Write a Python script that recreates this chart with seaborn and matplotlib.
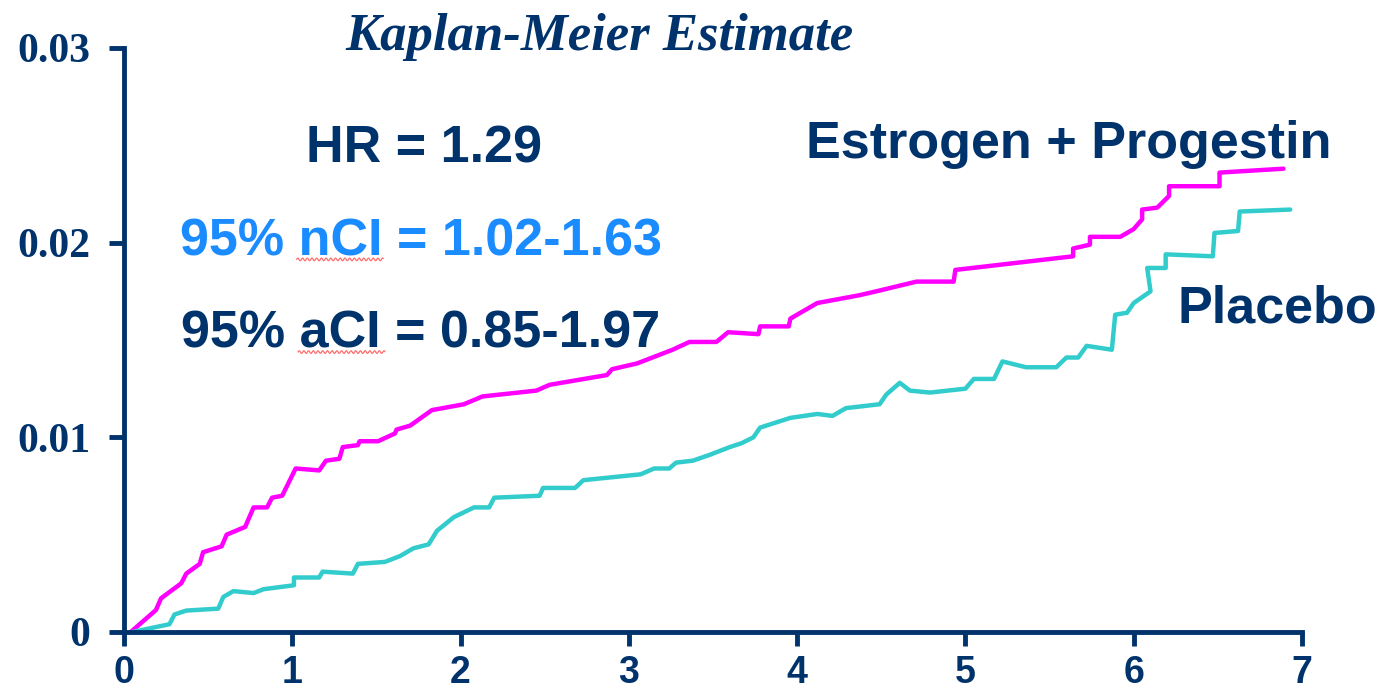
import numpy as np
import pandas as pd
import matplotlib
matplotlib.use("Agg")
import matplotlib.pyplot as plt
import seaborn as sns

# Cumulative incidence by years of follow-up, per treatment arm
ep_years = [0.04, 0.19, 0.22, 0.34, 0.37, 0.45, 0.47, 0.58, 0.61, 0.72, 0.77, 0.85,
            0.88, 0.94, 1.02, 1.16, 1.20, 1.28, 1.30, 1.39, 1.40, 1.51, 1.61, 1.62,
            1.70, 1.83, 2.02, 2.13, 2.45, 2.53, 2.87, 2.90, 3.05, 3.26, 3.36, 3.52,
            3.59, 3.77, 3.78, 3.95, 3.96, 4.12, 4.37, 4.47, 4.71, 4.93, 4.94, 5.64,
            5.64, 5.74, 5.74, 5.92, 6.00, 6.05, 6.05, 6.14, 6.21, 6.21, 6.51, 6.51, 6.89]
ep_rate = [0.0, 0.00113, 0.00173, 0.0025, 0.0030, 0.0035, 0.0041, 0.0044, 0.0050, 0.0054,
           0.0064, 0.0064, 0.0069, 0.0070, 0.0084, 0.0083, 0.0088, 0.0089, 0.0095, 0.0096,
           0.0098, 0.0098, 0.0102, 0.0104, 0.0106, 0.0114, 0.0117, 0.0121, 0.0124, 0.0127,
           0.0132, 0.0135, 0.0138, 0.0145, 0.0149, 0.0149, 0.0154, 0.0153, 0.0157, 0.0157,
           0.0161, 0.0169, 0.0173, 0.0175, 0.0180, 0.0180, 0.0186, 0.0193, 0.0197, 0.0199,
           0.0203, 0.0203, 0.0207, 0.0212, 0.0217, 0.0218, 0.0224, 0.0229, 0.0229, 0.0236,
           0.0238]

pl_years = [0.05, 0.27, 0.30, 0.37, 0.56, 0.59, 0.65, 0.77, 0.83, 1.01, 1.01, 1.16, 1.18,
            1.36, 1.39, 1.55, 1.64, 1.72, 1.81, 1.86, 1.96, 2.08, 2.17, 2.20, 2.47, 2.49,
            2.68, 2.73, 3.07, 3.15, 3.24, 3.28, 3.38, 3.48, 3.60, 3.67, 3.74, 3.78, 3.96,
            4.12, 4.21, 4.29, 4.49, 4.53, 4.61, 4.67, 4.79, 5.00, 5.05, 5.17, 5.22, 5.36,
            5.54, 5.60, 5.67, 5.72, 5.87, 5.89, 5.96, 6.00, 6.10, 6.08, 6.19, 6.19, 6.47,
            6.48, 6.62, 6.63, 6.93]
pl_rate = [0.0, 0.0004, 0.0009, 0.0011, 0.0012, 0.0018, 0.0021, 0.0020, 0.0022, 0.0024,
           0.0028, 0.0028, 0.0031, 0.0030, 0.0035, 0.0036, 0.0039, 0.0043, 0.0045, 0.0052,
           0.0059, 0.0064, 0.0064, 0.0069, 0.0070, 0.0074, 0.0074, 0.0078, 0.0081, 0.0084,
           0.0084, 0.0087, 0.0088, 0.0091, 0.0095, 0.0097, 0.0100, 0.0105, 0.0110, 0.0112,
           0.0111, 0.0115, 0.0117, 0.0122, 0.0128, 0.0124, 0.0123, 0.0125, 0.0130, 0.0130,
           0.0139, 0.0136, 0.0136, 0.0141, 0.0141, 0.0147, 0.0145, 0.0163, 0.0164, 0.0169,
           0.0175, 0.0187, 0.0187, 0.0194, 0.0193, 0.0205, 0.0206, 0.0216, 0.0217]

groups = ["Estrogen + Progestin", "Placebo"]
x_ticks = [0, 1, 2, 3, 4, 5, 6, 7]
x_tick_labels = ["0", "1", "2", "3", "4", "5", "6", "7"]
y_ticks = [0, 0.01, 0.02, 0.03]
y_tick_labels = ["0", "0.01", "0.02", "0.03"]

title_text = "Kaplan-Meier Estimate"
hr_text = "HR = 1.29"
ncl_text = "95% nCI = 1.02-1.63"
acl_text = "95% aCI = 0.85-1.97"

NAVY = "#00336B"
BLUE = "#1A8CFF"
palette = {groups[0]: "#FF00FF", groups[1]: "#33CCCC"}

df = pd.concat([
    pd.DataFrame({"year": ep_years, "rate": ep_rate, "arm": groups[0]}),
    pd.DataFrame({"year": pl_years, "rate": pl_rate, "arm": groups[1]}),
], ignore_index=True)

sns.set_style("ticks")
plt.rcParams["font.family"] = ["Liberation Sans", "DejaVu Sans"]

fig = plt.figure(figsize=(13.77, 6.93), dpi=100)
ax = fig.add_axes([124 / 1377, 61 / 693, 1178 / 1377, 584 / 693])

sns.lineplot(data=df, x="year", y="rate", hue="arm", palette=palette,
             sort=False, estimator=None, units="arm", linewidth=3.2,
             legend=False, ax=ax, clip_on=False)

ax.set_xlim(0, 7)
ax.set_ylim(0, 0.03)
ax.set_xlabel("")
ax.set_ylabel("")
sns.despine(ax=ax)
for side in ("left", "bottom"):
    ax.spines[side].set_color(NAVY)
    ax.spines[side].set_linewidth(3.5)
    ax.spines[side].set_capstyle("projecting")

ax.set_xticks(x_ticks)
ax.set_xticklabels(x_tick_labels, fontfamily=["Liberation Sans", "DejaVu Sans"],
                   fontweight="bold", fontsize=27, color=NAVY)
ax.set_yticks(y_ticks)
ax.set_yticklabels(y_tick_labels, fontfamily=["Liberation Serif", "DejaVu Serif"],
                   fontweight="bold", fontsize=30, color=NAVY)
ax.tick_params(axis="x", direction="out", length=10, width=3.5, color=NAVY, pad=6.5)
ax.tick_params(axis="y", direction="out", length=11, width=3.5, color=NAVY, pad=13)

# Title and annotations
ax.text(1.313, 0.02989, title_text, fontfamily=["Liberation Serif", "DejaVu Serif"],
        fontweight="bold", fontstyle="italic", fontsize=38, color=NAVY,
        ha="left", va="baseline", clip_on=False)

sans_kw = dict(fontfamily=["Liberation Sans", "DejaVu Sans"], fontweight="bold",
               fontsize=37.5, ha="left", va="baseline", clip_on=False)
ax.text(1.081, 0.02414, hr_text, color=NAVY, **sans_kw)
ax.text(0.330, 0.01936, ncl_text, color=BLUE, **sans_kw)
ax.text(0.339, 0.01459, acl_text, color=NAVY, **sans_kw)
ax.text(4.052, 0.02435, groups[0], color=NAVY, **sans_kw)
ax.text(6.263, 0.01592, groups[1], color=NAVY, **sans_kw)

# Wavy underline marks beneath the abbreviations
def squiggle(x0, x1, y):
    xs = np.linspace(x0, x1, 120)
    ys = y + 0.00007 * np.sin((xs - x0) / 0.028 * 2 * np.pi)
    ax.plot(xs, ys, color="#FF6B6B", linewidth=0.9, clip_on=False)

squiggle(1.026, 1.541, 0.01914)
squiggle(1.034, 1.551, 0.01438)

fig.savefig("out.png", dpi=100, facecolor="white")
